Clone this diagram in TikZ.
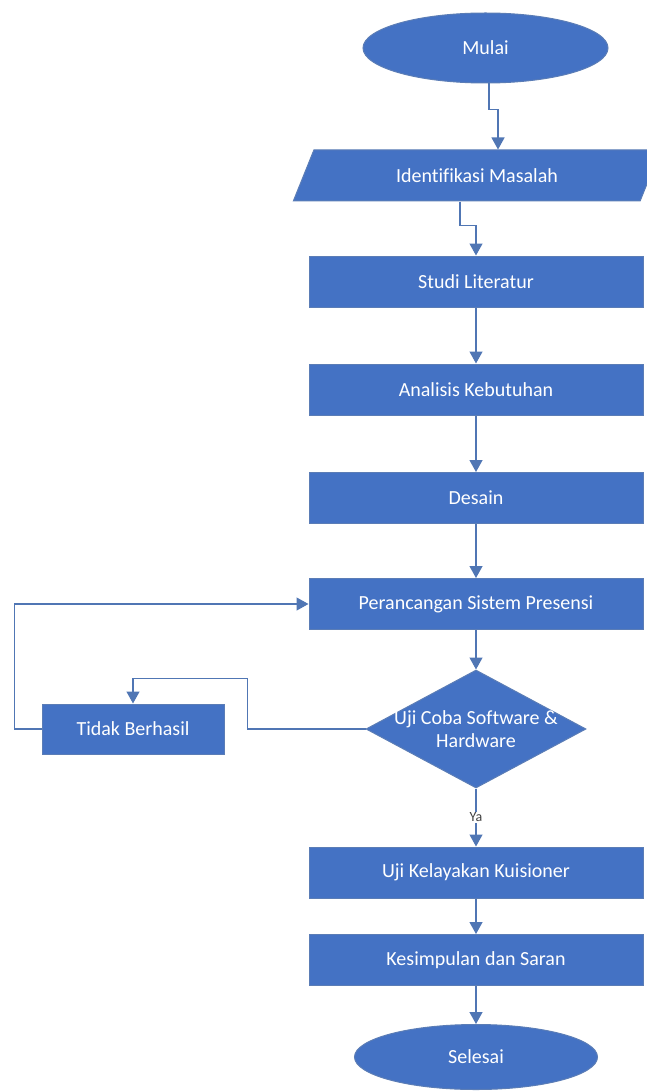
\documentclass[tikz,border=0pt]{standalone}
\usepackage{fontspec}
\setmainfont{Carlito}[Ligatures=NoCommon]
\usetikzlibrary{shapes.geometric,arrows.meta}
\definecolor{boxblue}{HTML}{4472C4}
\definecolor{boxedge}{HTML}{5B7DB6}
\definecolor{lineblue}{HTML}{5076B4}
\tikzset{
  proc_box/.style={rectangle,fill=boxblue,draw=boxedge,line width=1pt,text=white,
      minimum width=334pt,minimum height=51pt,inner sep=0pt,font=\fontsize{20}{23}\selectfont},
  term_box/.style={ellipse,fill=boxblue,draw=boxedge,line width=1pt,text=white,
      inner sep=0pt,font=\fontsize{20}{23}\selectfont},
  io_box/.style={trapezium,trapezium left angle=54,trapezium right angle=126,trapezium stretches=true,
      fill=boxblue,draw=boxedge,line width=1pt,text=white,minimum width=368pt,minimum height=51pt,
      inner sep=0pt,font=\fontsize{20}{23}\selectfont},
  decision_box/.style={diamond,shape aspect=1.864,fill=boxblue,draw=boxedge,line width=1pt,text=white,
      minimum width=220pt,minimum height=118pt,inner sep=0pt,align=center,font=\fontsize{20}{23}\selectfont},
  flow_arrow/.style={draw=lineblue,line width=1.3pt,-{Triangle[length=12pt,width=13pt]}}
}
\def\MidX {476}

\begin{document}
\begin{tikzpicture}[x=1pt,y=-1pt]
  \useasboundingbox (0,0) rectangle (646,1091);
  % main column
  \node[term_box,minimum width=245pt,minimum height=70pt] (mulai) at (485.5,48) {Mulai};
  \node[io_box] (ident) at (477,175.5) {Identifikasi Masalah};
  \node[proc_box] (studi) at (\MidX,281.5) {Studi Literatur};
  \node[proc_box] (analisis) at (\MidX,389.5) {Analisis Kebutuhan};
  \node[proc_box] (desain) at (\MidX,498) {Desain};
  \node[proc_box] (rancang) at (\MidX,604) {Perancangan Sistem Presensi};
  \node[decision_box] (uji) at (\MidX,729) {\makebox[100pt]{Uji Coba Software \&}\\Hardware};
  \node[proc_box] (kelayakan) at (\MidX,872.5) {Uji Kelayakan Kuisioner};
  \node[proc_box] (simpulan) at (\MidX,960) {Kesimpulan dan Saran};
  \node[term_box,minimum width=243pt,minimum height=65pt] (selesai) at (\MidX,1057) {Selesai};
  % side branch
  \node[proc_box,minimum width=182pt,minimum height=50pt] (tidak) at (133,729) {Tidak Berhasil};

  \draw[flow_arrow] ([xshift=3.5pt]mulai.south) -- ++(0,26) -| ([xshift=21pt]ident.north);
  \draw[flow_arrow] ([xshift=-17pt]ident.south) -- ++(0,24) -| (studi.north);
  \foreach \a/\b in {studi/analisis,analisis/desain,desain/rancang,rancang/uji,kelayakan/simpulan,simpulan/selesai}
    \draw[flow_arrow] (\a.south) -- (\b.north);
  \draw[flow_arrow] (uji.south) -- node[fill=white,inner sep=1pt,text=darkgray,font=\fontsize{14}{16}\selectfont] (ya) {Ya} (kelayakan.north);
  % loop back
  \draw[flow_arrow] (uji.west) -- ++(-118,0) |- ([yshift=25pt]tidak.north) -- (tidak.north);
  \draw[flow_arrow] (tidak.west) -- ++(-27,0) |- (rancang.west);
\end{tikzpicture}
\end{document}
